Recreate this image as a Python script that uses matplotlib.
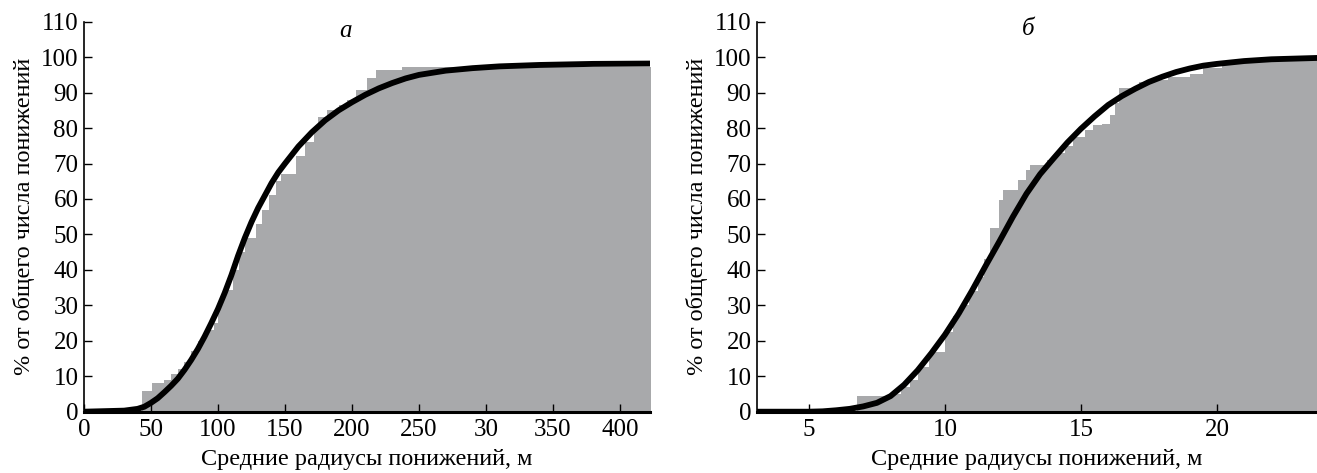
import matplotlib
matplotlib.use("Agg")
import matplotlib.pyplot as plt

plt.rcParams['font.family'] = ['Liberation Serif', 'DejaVu Serif']

# ---------------- data: panel а ----------------
a_step_x = [0, 43, 51, 60, 65, 70, 75, 80, 85, 90, 97, 100, 104, 111, 116, 120, 128,
            133, 138, 143, 147, 158, 165, 172, 175, 181, 190, 196, 203, 211, 218, 237, 425]
a_step_y = [0, 5.7, 8.2, 9.0, 10.5, 12, 14, 17, 20, 23, 25, 30, 34.3, 40, 45, 49, 53,
            57, 61, 65, 67, 72, 76, 80, 83, 85, 86.5, 88, 90.7, 94, 96.4, 97.3, 97.3]
a_curve_x = [0, 30, 40, 45, 50, 55, 60, 65, 70, 75, 80, 85, 90, 95, 100, 105, 110,
             115, 120, 125, 130, 135, 140, 145, 150, 160, 170, 180, 190, 200, 210,
             220, 230, 240, 250, 270, 290, 310, 340, 380, 425]
a_curve_y = [0, 0.3, 0.8, 1.4, 2.5, 3.8, 5.5, 7.3, 9.3, 11.8, 14.6, 17.7, 21.2, 25, 29,
             33.5, 38.5, 44, 49, 53.5, 57.5, 61, 64.5, 67.5, 70, 74.8, 78.8, 82.2, 85,
             87.3, 89.4, 91.2, 92.7, 94, 95, 96.2, 96.9, 97.4, 97.8, 98.1, 98.2]
a_xticks = [0, 50, 100, 150, 200, 250, 300, 350, 400]
a_xticklabels = ['0', '50', '100', '150', '200', '250', '30', '350', '400']

# ---------------- data: panel б ----------------
b_step_x = [3, 6.76, 8.0, 8.4, 8.7, 9.0, 9.4, 10.0, 10.3, 10.6, 10.9, 11.2, 11.45, 11.66,
            11.97, 12.15, 12.7, 12.97, 13.13, 13.75, 14.1, 14.4, 14.7, 15.14, 15.45, 15.76,
            16.07, 16.25, 16.4, 17.15, 17.8, 18.2, 19.0, 19.5, 20.2, 21.0, 22.0, 24]
b_step_y = [0, 4.3, 5, 7, 9, 12.5, 16.7, 22.4, 27, 30, 34, 38, 43, 51.7,
            59.7, 62.5, 65.3, 68.1, 69.5, 71, 73, 75, 77.5, 79.4, 80.8, 81.2,
            83.6, 87, 91.4, 93, 93.5, 94.4, 95.3, 97, 98, 99, 99.5, 99.5]
b_curve_x = [3.1, 5, 5.5, 6, 6.5, 7, 7.5, 8, 8.5, 9, 9.5, 10, 10.5, 11, 11.5, 12,
             12.5, 13, 13.5, 14, 14.5, 15, 15.5, 16, 16.5, 17, 17.5, 18, 18.5, 19,
             19.5, 20, 21, 22, 23.8]
b_curve_y = [0, 0, 0.1, 0.4, 0.8, 1.5, 2.5, 4.4, 7.6, 11.7, 16.5, 21.7, 27.6, 34.2,
             41.2, 48, 55, 61.5, 67, 71.5, 75.9, 79.8, 83.3, 86.5, 89, 91.1, 93, 94.5,
             95.8, 96.8, 97.6, 98.1, 98.9, 99.4, 99.8]
b_xticks = [5, 10, 15, 20]

yticks = list(range(0, 111, 10))
ylabel = '% от общего числа понижений'
xlabel = 'Средние радиусы понижений, м'

GRAY = '#a8a9ab'
FS = 18
LFS = 17.5

fig = plt.figure(figsize=(13.17, 4.73), dpi=100)
axA = fig.add_axes([84/1317, 61.3/473, 566/1317, 390/473])
axB = fig.add_axes([757/1317, 61.3/473, 560/1317, 390/473])


def style(ax, xlim, xticks, xticklabels):
    ax.set_xlim(*xlim)
    ax.set_ylim(0, 110)
    for s in ('top', 'right'):
        ax.spines[s].set_visible(False)
    ax.spines['left'].set_linewidth(1.2)
    ax.spines['bottom'].set_linewidth(2.2)
    ax.set_xticks(xticks)
    ax.set_xticklabels(xticklabels)
    ax.set_yticks(yticks)
    ax.tick_params(axis='x', direction='in', length=6, width=1, labelsize=FS, pad=5)
    ax.tick_params(axis='y', direction='in', length=6, width=1, labelsize=FS, pad=4)
    ax.set_xlabel(xlabel, fontsize=LFS, labelpad=6)
    ax.set_ylabel(ylabel, fontsize=LFS, labelpad=4)


axA.fill_between(a_step_x, a_step_y, step='post', color=GRAY, lw=0)
axA.plot(a_curve_x, a_curve_y, color='black', lw=4.2, solid_capstyle='round',
         solid_joinstyle='round')
style(axA, (0, 422.4), a_xticks, a_xticklabels)
axA.text(195, 107.5, 'а', fontsize=FS, style='italic', ha='center', va='center')

axB.fill_between(b_step_x, b_step_y, step='post', color=GRAY, lw=0)
axB.plot(b_curve_x, b_curve_y, color='black', lw=4.2, solid_capstyle='round',
         solid_joinstyle='round')
style(axB, (3.09, 23.68), b_xticks, [str(v) for v in b_xticks])
axB.text(13.05, 108, 'б', fontsize=FS, style='italic', ha='center', va='center')

fig.savefig('out.png', dpi=100)
